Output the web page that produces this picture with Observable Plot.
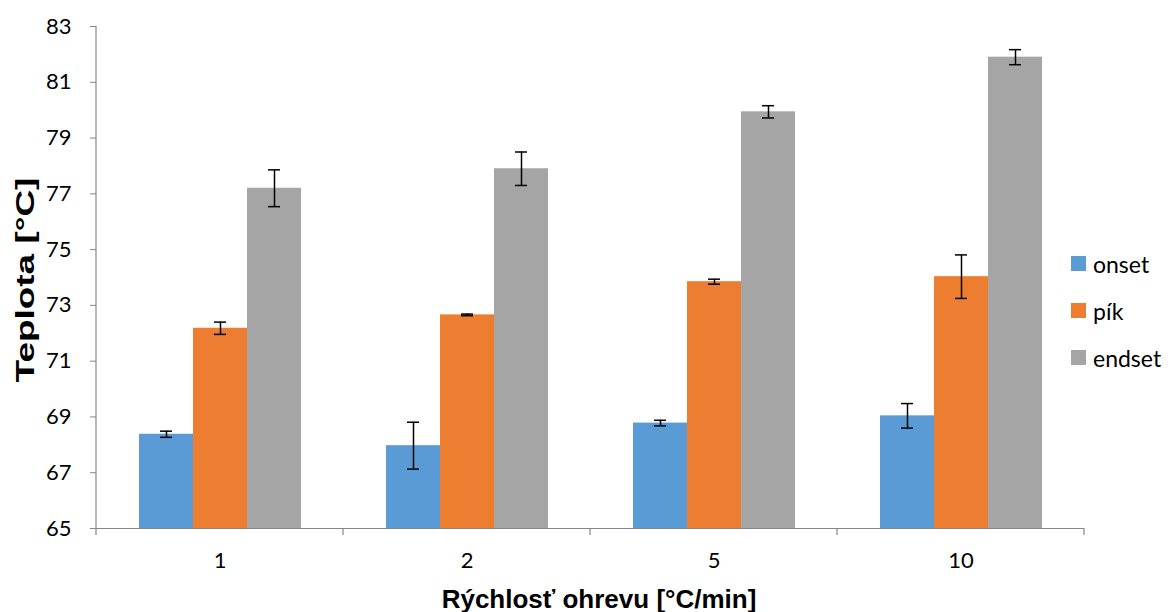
<!DOCTYPE html>
<html><head><meta charset="utf-8">
<script src="https://cdn.jsdelivr.net/npm/d3@7"></script>
<script src="https://cdn.jsdelivr.net/npm/@observablehq/plot@0.6"></script>
<style>
body{margin:0;background:#fff;}
#wrap{position:relative;width:1168px;height:612px;font-family:"Liberation Sans",Arial,sans-serif;}
#legend{position:absolute;left:1071px;top:240px;font-family:Lato,"Open Sans",sans-serif;font-size:23px;color:#000;}
#legend .row{display:flex;align-items:center;height:47px;}
#legend .sw{width:15px;height:15px;margin-right:7px;}
.ttl{position:absolute;font-weight:bold;font-size:26px;color:#000;white-space:nowrap;font-family:"Liberation Sans",Arial,sans-serif;}
</style></head>
<body><div id="wrap"></div>
<script>
const rates = ["1", "2", "5", "10"];
const series = ["onset", "pík", "endset"];
const colors = ["#5B9BD5", "#ED7D31", "#A5A5A5"];
const onset = [68.38, 67.97, 68.78, 69.04];
const onsetErr = [0.11, 0.84, 0.10, 0.44];
const pik = [72.18, 72.66, 73.85, 74.03];
const pikErr = [0.22, 0.03, 0.09, 0.78];
const endset = [77.20, 77.90, 79.94, 81.90];
const endsetErr = [0.66, 0.60, 0.22, 0.27];
const yTicks = [65, 67, 69, 71, 73, 75, 77, 79, 81, 83];

const vals = [onset, pik, endset];
const errs = [onsetErr, pikErr, endsetErr];
const data = [];
rates.forEach((r, i) => series.forEach((s, j) => data.push({rate: r, series: s, value: vals[j][i], err: errs[j][i]})));

const axisColor = "#868686";
const chart = Plot.plot({
  width: 1168, height: 612,
  marginLeft: 95, marginRight: 83, marginTop: 26, marginBottom: 84,
  style: {fontFamily: "Lato, 'Open Sans', sans-serif", fontSize: "22px", color: "#000", background: "#fff"},
  y: {domain: [65, 83], ticks: yTicks},
  fx: {domain: rates, padding: 0, label: null},
  x: {domain: series, paddingInner: 0, paddingOuter: 0.75, axis: null},
  color: {domain: series, range: colors},
  marks: [
    Plot.barY(data, {fx: "rate", x: "series", y1: d => 65, y2: "value", fill: "series"}),
    Plot.ruleX(data, {fx: "rate", x: "series", y1: d => d.value - d.err, y2: d => d.value + d.err, stroke: "#000", strokeWidth: 1.5}),
    Plot.tickY(data, {fx: "rate", x: "series", y: d => d.value - d.err, insetLeft: 21, insetRight: 21, stroke: "#000", strokeWidth: 1.5}),
    Plot.tickY(data, {fx: "rate", x: "series", y: d => d.value + d.err, insetLeft: 21, insetRight: 21, stroke: "#000", strokeWidth: 1.5}),
    Plot.ruleY([65], {stroke: axisColor, strokeWidth: 1.2}),
    Plot.axisY({ticks: yTicks, tickSize: 6, tickPadding: 19, stroke: axisColor, label: null, tickFormat: d => String(d)}),
    Plot.axisFx({anchor: "bottom", tickSize: 0, tickPadding: 24, label: null})
  ]
});
document.getElementById("wrap").appendChild(chart);

// y axis line and category boundary ticks from the scales
const fx = chart.scale("fx"), y = chart.scale("y");
const g = d3.select(chart).append("g").attr("stroke", axisColor).attr("stroke-width", 1.2);
const x0 = fx.apply(rates[0]);
g.append("line").attr("x1", x0).attr("x2", x0).attr("y1", y.apply(83)).attr("y2", y.apply(65));
const bounds = rates.map(r => fx.apply(r)).concat([fx.apply(rates[rates.length - 1]) + fx.bandwidth]);
bounds.forEach(b => g.append("line").attr("x1", b).attr("x2", b).attr("y1", y.apply(65)).attr("y2", y.apply(65) + 7));

// axis titles
const wrap = document.getElementById("wrap");
const xt = document.createElement("div");
xt.className = "ttl"; xt.textContent = "Rýchlosť ohrevu [°C/min]";
xt.style.left = "599px"; xt.style.top = "599px"; xt.style.transform = "translate(-50%,-50%)";
wrap.appendChild(xt);
const yt = document.createElement("div");
yt.className = "ttl"; yt.textContent = "Teplota [°C]";
yt.style.left = "25px"; yt.style.top = "280px"; yt.style.transform = "translate(-50%,-50%) rotate(-90deg) scaleX(1.42)";
wrap.appendChild(yt);

// legend
const lg = document.createElement("div");
lg.id = "legend";
series.forEach((s, j) => {
  const row = document.createElement("div"); row.className = "row";
  const sw = document.createElement("div"); sw.className = "sw"; sw.style.background = colors[j];
  const t = document.createElement("span"); t.textContent = s;
  row.appendChild(sw); row.appendChild(t); lg.appendChild(row);
});
wrap.appendChild(lg);
</script>
</body></html>
